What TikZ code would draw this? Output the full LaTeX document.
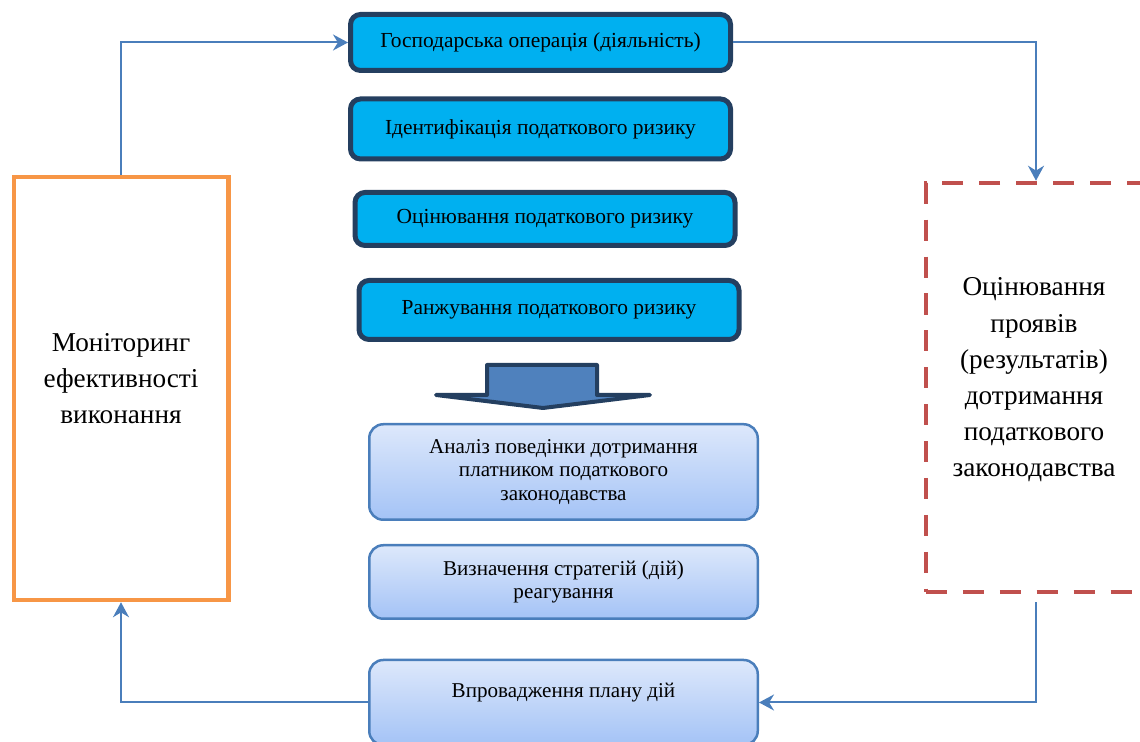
\documentclass[tikz,border=0pt]{standalone}
\usepackage{fontspec}
\setmainfont{Liberation Serif}
\usetikzlibrary{positioning,calc,arrows.meta}
\definecolor{ccyan}{HTML}{00B0F0}
\definecolor{cnavy}{HTML}{243F60}
\definecolor{cblue}{HTML}{4F81BD}
\definecolor{cline}{HTML}{4A7EBB}
\definecolor{ctop}{HTML}{DDE8FB}
\definecolor{cbot}{HTML}{A4C3F6}
\definecolor{corange}{HTML}{F79646}
\definecolor{cred}{HTML}{C0504D}

\begin{document}
\begin{tikzpicture}[>={Stealth[length=0.3cm,width=0.32cm]},
    riskbox/.style={draw=cnavy,fill=ccyan,line width=0.1cm,rounded corners=0.2cm,
      minimum width=7.6cm,inner sep=0pt,font=\fontsize{12.2}{14}\selectfont},
    planbox/.style={draw=cline,top color=ctop,bottom color=cbot,line width=0.05cm,
      rounded corners=0.28cm,minimum width=7.77cm,inner sep=0pt,align=center,
      font=\fontsize{12}{13.4}\selectfont},
    bigtext/.style={align=center,inner sep=0pt,font=\fontsize{15.5}{20.6}\selectfont},
    link/.style={->,cline,line width=0.04cm}]
    \clip (0,0) rectangle (22.8,14.84);
    % risk steps
    \node[riskbox,minimum height=1.12cm] (oper) at (10.81,13.99) {Господарська операція (діяльність)};
    \node[riskbox,minimum height=1.2cm] (ident) at (10.81,12.26) {Ідентифікація податкового ризику};
    \node[riskbox,minimum height=1.06cm] (ocin) at (10.90,10.46) {Оцінювання податкового ризику};
    \node[riskbox,minimum height=1.18cm] (rank) at (10.98,8.64) {Ранжування податкового ризику};
    % block arrow down
    \draw[cnavy,fill=cblue,line width=0.08cm,line join=round]
      (9.74,6.94) -- (9.74,7.54) -- (11.94,7.54) -- (11.94,6.94) -- (13.0,6.94)
      -- (10.86,6.68) -- (8.72,6.94) -- cycle;
    % response steps
    \node[planbox,minimum height=1.91cm] (anal) at (11.27,5.40)
      {Аналіз поведінки дотримання\\платником податкового\\законодавства};
    \node[planbox,minimum height=1.47cm] (strat) at (11.27,3.20)
      {Визначення стратегій (дій)\\реагування};
    \node[planbox,minimum height=1.7cm] (impl) at (11.27,0.79)
      {Впровадження плану дій\\\mbox{}};
    % side boxes
    \node[draw=corange,line width=0.09cm,minimum width=4.29cm,minimum height=8.46cm]
      (mon) at (2.42,7.07) {};
    \node[bigtext] (montxt) at (2.42,7.27) {Моніторинг\\ефективності\\виконання};
    \node[draw=cred,line width=0.09cm,dash pattern=on 12pt off 9pt,minimum width=4.4cm,
      minimum height=8.18cm] (res) at (20.72,7.09) {};
    \node[bigtext] (restxt) at (20.68,7.24)
      {Оцінювання\\проявів\\(результатів)\\дотримання\\податкового\\законодавства};
    % loop connectors
    \draw[link] (mon.north) |- (oper.west);
    \draw[link] (oper.east) -| (res.north);
    \draw[link,shorten <=0.16cm] (res.south) |- (impl.east);
    \draw[link] (impl.west) -| (mon.south);
\end{tikzpicture}
\end{document}
